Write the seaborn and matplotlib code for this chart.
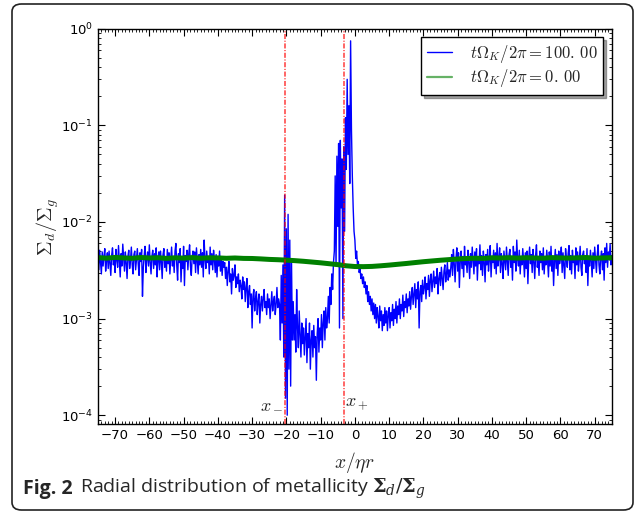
import numpy as np
import seaborn as sns
import matplotlib.pyplot as plt
from matplotlib.lines import Line2D
from matplotlib.patches import FancyBboxPatch
from matplotlib.ticker import MultipleLocator, LogLocator, NullFormatter

# dust-to-gas ratio, in units of 1e-3, sampled every 0.25 in x/(eta r)
sd_far_left = [  # x = -75 .. -38.25
    4.6, 3.2, 5.1, 3.8, 2.9, 4.9, 3.5, 4.4, 5.3, 3.1, 4.0, 4.8, 3.3, 5.0, 3.7, 2.8, 4.5, 5.4, 3.6, 4.2,
    3.0, 5.2, 4.1, 3.4, 5.7, 3.9, 2.7, 4.7, 3.5, 5.9, 4.3, 3.1, 4.9, 3.8, 2.6, 4.4, 5.1, 3.3, 4.0, 5.5,
    3.6, 2.9, 4.6, 5.0, 3.2, 4.1, 5.3, 3.7, 2.8, 4.8, 3.9, 5.2, 1.7, 3.4, 4.5, 5.6, 3.0, 4.2, 4.9, 3.5,
    5.8, 3.8, 2.9, 4.4, 5.1, 3.3, 4.7, 3.6, 5.4, 2.7, 4.0, 4.9, 3.2, 5.0, 3.9, 2.6, 4.6, 5.3, 3.4, 4.3,
    3.1, 5.2, 3.7, 4.8, 2.9, 4.1, 5.5, 3.5, 4.4, 3.0, 5.0, 6.0, 3.6, 2.5, 4.7, 3.8, 5.3, 2.4, 4.2, 3.3,
    5.6, 2.2, 4.5, 3.9, 5.1, 3.2, 4.6, 5.8, 3.5, 2.8, 4.3, 5.0, 3.7, 4.9, 3.0, 5.4, 4.0, 2.9, 4.6, 3.6,
    5.2, 3.4, 4.8, 2.7, 6.5, 4.1, 3.3, 5.0, 3.8, 4.4, 2.9, 5.5, 3.6, 4.7, 3.2, 5.1, 4.0, 3.0, 4.6, 2.7,
    4.3, 3.5, 5.0, 3.1, 4.2, 2.8, 3.9, 3.4,
]
sd_left_decline = [  # x = -38 .. -22.25
    3.8, 2.6, 3.4, 2.2, 3.1, 3.9, 2.4, 2.9, 1.8, 3.3, 2.5, 2.8, 3.6, 2.1, 2.7, 2.3,
    2.9, 1.9, 2.5, 2.2, 1.6, 2.7, 2.0, 2.4, 1.5, 2.1, 2.6, 1.3, 1.9, 2.2, 1.4, 1.8,
    0.8, 1.7, 2.0, 1.2, 1.6, 1.9, 1.1, 1.5, 1.8, 0.9, 1.4, 1.7, 1.2, 1.6, 2.0, 1.3,
    1.5, 1.1, 1.8, 1.3, 1.6, 1.0, 1.4, 1.9, 1.2, 1.5, 1.7, 1.1, 1.4, 2.1, 1.3, 1.6,
]
sd_xminus = [  # x = -22 .. -18.25
    1.4, 0.6, 2.8, 0.9, 3.6, 0.4, 19, 0.15, 8.5, 0.1, 12, 0.3, 6.5, 0.2, 4.0, 0.6,
]
sd_gap = [  # x = -18 .. -8.25
    1.5, 0.6, 1.1, 0.45, 2.0, 0.8, 0.5, 1.2, 0.7, 0.4, 0.9, 0.55,
    0.8, 0.42, 0.65, 1.0, 0.35, 0.7, 0.5, 0.9, 0.3, 0.6, 0.75, 0.4,
    0.85, 0.5, 0.65, 0.23, 0.7, 1.0, 0.45, 0.8, 0.6, 1.1, 0.5, 0.9,
    1.2, 0.6, 1.3, 0.8,
]
sd_rise = [1.0, 1.7, 0.9, 2.1, 1.4, 2.9, 2.0, 3.8]  # x = -8 .. -6.25
sd_xplus = [  # x = -6 .. -2.25
    5, 30, 3.5, 48, 9, 65, 0.8, 70, 14, 45, 1.0, 60, 8, 120, 35, 300,
]
sd_peak = [50, 160, 25, 750, 90, 30, 14, 8]  # x = -2 .. -0.25
sd_right_dip = [  # x = 0 .. 9.75
    6.5, 4.2, 5.0, 3.6, 3.9, 3.0, 3.3, 2.6, 2.9, 2.3, 2.7, 2.1,
    2.4, 1.8, 2.2, 1.5, 1.9, 1.4, 1.7, 1.2, 1.6, 1.1, 1.45, 1.0,
    1.4, 0.9, 1.3, 1.05, 0.8, 1.35, 0.95, 1.2, 0.75, 1.1, 0.85, 1.3,
    0.9, 1.2, 0.75, 1.1,
]
sd_recover = [  # x = 10 .. 27.75
    1.3, 0.8, 1.15, 0.95, 1.4, 0.85, 1.25, 1.0, 1.5, 0.9, 1.35, 1.1,
    1.6, 1.0, 1.4, 1.2, 1.75, 1.05, 1.5, 1.3, 1.8, 1.15, 1.6, 1.35,
    1.9, 1.25, 1.7, 2.1, 1.4, 1.8, 2.3, 1.3, 2.0, 1.6, 2.4, 0.8,
    1.9, 2.2, 1.5, 2.5, 1.8, 2.1, 2.7, 1.6, 2.3, 2.0, 2.8, 1.7,
    2.5, 2.9, 1.9, 2.4, 3.1, 2.1, 2.7, 2.3, 3.3, 1.8, 2.6, 3.0,
    2.2, 3.4, 2.6, 2.0, 3.1, 3.6, 2.4, 2.9, 3.8, 2.5, 3.2, 2.7,
]
sd_far_right = [  # x = 28 .. 75
    3.4, 4.6, 2.8, 5.2, 3.7, 2.4, 4.1, 5.4, 3.1, 4.8, 2.1, 3.9, 5.0, 3.3, 4.4, 2.7, 5.6, 3.6, 4.2, 3.0,
    5.1, 3.8, 2.6, 4.7, 3.4, 5.5, 4.0, 2.9, 4.9, 3.5, 5.3, 2.5, 4.3, 3.7, 5.8, 3.2, 4.5, 2.8, 5.0, 3.9,
    2.4, 4.6, 3.6, 5.2, 3.1, 4.1, 5.7, 2.7, 4.4, 3.8, 5.1, 3.3, 4.8, 2.9, 6.0, 3.5, 4.2, 5.4, 3.0, 4.7,
    3.7, 2.6, 5.0, 4.0, 3.2, 5.5, 3.9, 2.8, 4.6, 5.2, 3.4, 4.3, 2.5, 5.6, 3.8, 4.9, 3.1, 6.5, 4.1, 3.5,
    5.1, 2.9, 4.4, 3.6, 5.3, 4.0, 2.7, 4.8, 3.3, 5.0, 2.3, 4.2, 5.5, 3.7, 4.6, 3.0, 5.2, 3.9, 2.6, 4.5,
    5.8, 3.4, 4.1, 2.8, 5.0, 3.8, 4.7, 3.2, 5.4, 2.9, 4.3, 3.6, 5.1, 4.0, 2.7, 4.9, 3.5, 5.6, 3.1, 4.4,
    2.2, 3.9, 5.2, 3.3, 4.6, 2.8, 5.0, 3.7, 4.2, 5.5, 3.0, 4.8, 3.5, 2.6, 5.3, 4.1, 3.4, 4.7, 5.7, 3.2,
    4.5, 2.9, 5.1, 3.8, 4.3, 2.6, 5.4, 3.6, 4.9, 3.1, 4.0, 5.6, 3.4, 2.8, 4.6, 5.0, 3.7, 4.2, 3.0, 5.3,
    2.2, 4.4, 3.5, 5.1, 3.9, 2.7, 4.8, 3.3, 5.5, 4.1, 3.0, 4.6, 5.8, 3.6, 2.9, 4.3, 5.0, 3.2, 4.7, 2.5,
    5.4, 3.8, 6.0, 3.4, 4.9, 4.1, 5.9, 3.6, 4.5,
]

# initial state (t = 0), units of 1e-3, every 2.5 in x
sd_init = [
    4.28, 4.22, 4.30, 4.25, 4.21, 4.29, 4.24, 4.27, 4.20, 4.26,
    4.23, 4.28, 4.22, 4.26, 4.25, 4.21, 4.24, 4.20, 4.19, 4.15,
    4.10, 4.07, 4.03, 3.98, 3.92, 3.85, 3.78, 3.70, 3.62, 3.52,
    3.46, 3.45, 3.47, 3.52, 3.58, 3.65, 3.72, 3.80, 3.88, 3.95,
    4.02, 4.08, 4.14, 4.19, 4.22, 4.20, 4.26, 4.24, 4.27, 4.23,
    4.27, 4.24, 4.22, 4.28, 4.25, 4.23, 4.26, 4.29, 4.22, 4.25, 4.27,
]

x_minus, x_plus = -20.4, -3.2
labels = [r'$t\Omega_K/2\pi=100.\,00$', r'$t\Omega_K/2\pi=0.\,00$']

sd_now = np.array(sd_far_left + sd_left_decline + sd_xminus + sd_gap + sd_rise
                  + sd_xplus + sd_peak + sd_right_dip + sd_recover + sd_far_right) * 1e-3
assert len(sd_now) == 601, len(sd_now)
x_now = np.linspace(-75, 75, len(sd_now))
x_init = np.linspace(-75, 75, len(sd_init))
sd_init = np.array(sd_init) * 1e-3

sns.set_style("ticks")
plt.rcParams['mathtext.fontset'] = 'dejavusans'
plt.rcParams['xtick.direction'] = 'in'
plt.rcParams['ytick.direction'] = 'in'

fig = plt.figure(figsize=(6.36, 5.14), dpi=100)
ax = fig.add_axes([0.154, 0.175, 0.808, 0.769])

sns.lineplot(x=x_now, y=sd_now, ax=ax, color='b', lw=1.0, sort=False, estimator=None)
sns.lineplot(x=x_init, y=sd_init, ax=ax, color='g', lw=3.6, sort=False, estimator=None)

for xv in (x_minus, x_plus):
    ax.axvline(xv, color='r', lw=1.3, alpha=0.65, dashes=(2.8, 0.9, 0.6, 0.9))

ax.set_yscale('log')
ax.set_xlim(-75, 75)
ax.set_ylim(8.1e-5, 1)
ax.xaxis.set_major_locator(MultipleLocator(10))
ax.xaxis.set_minor_locator(MultipleLocator(1))
ax.yaxis.set_minor_locator(LogLocator(base=10, subs=np.arange(2, 10)))
ax.yaxis.set_minor_formatter(NullFormatter())
ax.tick_params(which='both', top=True, right=True, direction='in', labelsize=9.5, colors='black')
ax.tick_params(which='major', length=5, width=0.8)
ax.tick_params(which='minor', length=2.5, width=0.6)
for s in ax.spines.values():
    s.set_color('black')
    s.set_linewidth(1)

ax.text(x_minus - 0.4, 1.08e-4, r'$x_-$', ha='right', va='bottom', fontsize=13, math_fontfamily='cm')
ax.text(x_plus + 0.3, 1.08e-4, r'$x_+$', ha='left', va='bottom', fontsize=13, math_fontfamily='cm')

ax.set_xlabel(r'$x/\eta r$', fontsize=14, math_fontfamily='cm', labelpad=6)
ax.set_ylabel(r'$\Sigma_d/\Sigma_g$', fontsize=14.5, math_fontfamily='cm')
ax.yaxis.set_label_coords(-0.072, 0.5)

handles = [Line2D([], [], color='b', lw=1.0), Line2D([], [], color='g', lw=1.6, alpha=0.6)]
leg = ax.legend(handles, labels, loc='upper right', fontsize=12, fancybox=False, shadow=True,
                framealpha=1, edgecolor='black', handlelength=1.5, handletextpad=1.1,
                borderpad=0.35, labelspacing=0.15, borderaxespad=0.5)
leg.get_frame().set_linewidth(1)
for t in leg.get_texts():
    t.set_math_fontfamily('cm')

# rounded frame and caption
fig.patches.append(FancyBboxPatch((12 / 636, 4 / 514), 621 / 636, 506 / 514,
                                  boxstyle='round,pad=0,rounding_size=0.015',
                                  transform=fig.transFigure, fill=False, ec='#222222', lw=1.2))
fig.text(23 / 636, 1 - 489 / 514, 'Fig. 2', fontsize=14, fontweight='bold', family='Open Sans', va='center')
fig.text(80 / 636, 1 - 489 / 514, r'Radial distribution of metallicity $\mathbf{\Sigma}_d/\mathbf{\Sigma}_g$',
         fontsize=14, family='Open Sans', va='center', math_fontfamily='dejavuserif')

fig.savefig('out.png', dpi=100)
